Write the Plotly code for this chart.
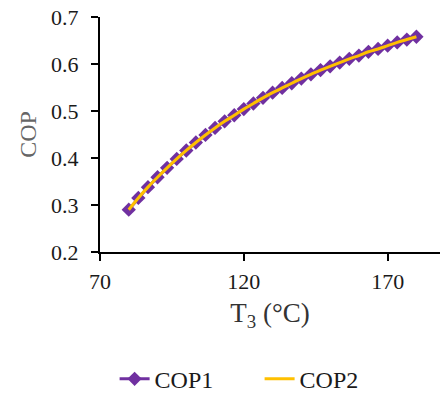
import plotly.graph_objects as go

# Generator temperature T3 (°C)
t3 = [80.0, 83.33, 86.67, 90.0, 93.33, 96.67, 100.0, 103.33, 106.67, 110.0,
      113.33, 116.67, 120.0, 123.33, 126.67, 130.0, 133.33, 136.67, 140.0, 143.33,
      146.67, 150.0, 153.33, 156.67, 160.0, 163.33, 166.67, 170.0, 173.33, 176.67,
      180.0]

# Coefficient of performance from the two methods
cop1 = [0.290, 0.315, 0.338, 0.359, 0.379, 0.398, 0.416, 0.433, 0.449, 0.464,
        0.478, 0.491, 0.504, 0.516, 0.528, 0.539, 0.549, 0.559, 0.569, 0.578,
        0.587, 0.595, 0.603, 0.611, 0.618, 0.626, 0.632, 0.639, 0.646, 0.652,
        0.658]
cop2 = [0.290, 0.315, 0.338, 0.359, 0.379, 0.398, 0.416, 0.433, 0.449, 0.464,
        0.478, 0.491, 0.504, 0.516, 0.528, 0.539, 0.549, 0.559, 0.569, 0.578,
        0.587, 0.595, 0.603, 0.611, 0.618, 0.626, 0.632, 0.639, 0.646, 0.652,
        0.658]

x_ticks = [70, 120, 170]
y_ticks = [0.2, 0.3, 0.4, 0.5, 0.6, 0.7]

serif = "Liberation Serif, Times New Roman, serif"

fig = go.Figure()
fig.add_trace(go.Scatter(
    x=t3, y=cop1, name="COP1", mode="lines+markers",
    line=dict(color="#7030A0", width=3),
    marker=dict(symbol="diamond", size=11, color="#7030A0"),
))
fig.add_trace(go.Scatter(
    x=t3, y=cop2, name="COP2", mode="lines",
    line=dict(color="#FFC000", width=3, shape="spline"),
))

fig.update_layout(
    width=440, height=393,
    margin=dict(l=100, r=0, t=17, b=141),
    plot_bgcolor="white", paper_bgcolor="white",
    font=dict(family=serif, color="#1a1a1a"),
    showlegend=True,
    legend=dict(
        orientation="h", x=0.59, xref="container", xanchor="center",
        y=0.035, yref="container", yanchor="middle",
        font=dict(family=serif, size=24, color="#1a1a1a"),
        entrywidth=100, entrywidthmode="pixels", tracegroupgap=0,
    ),
)

fig.update_xaxes(
    range=[70, 188.2], tickvals=x_ticks, ticktext=[str(v) for v in x_ticks],
    showgrid=False, zeroline=False,
    showline=True, linecolor="black", linewidth=2,
    ticks="outside", ticklen=7, tickwidth=2, tickcolor="black",
    tickfont=dict(family=serif, size=22, color="#1a1a1a"),
    ticklabelstandoff=2,
    title=dict(text="T<sub>3</sub> (°C)", standoff=10,
               font=dict(family=serif, size=27, color="#333333")),
    automargin=False,
)
fig.update_yaxes(
    range=[0.2, 0.7], tickvals=y_ticks, ticktext=[f"{v:.1f}" for v in y_ticks],
    showgrid=False, zeroline=False,
    showline=True, linecolor="black", linewidth=2,
    ticks="outside", ticklen=7, tickwidth=2, tickcolor="black",
    tickfont=dict(family=serif, size=22, color="#1a1a1a"),
    ticklabelstandoff=8,
    title=dict(text="COP", standoff=8,
               font=dict(family=serif, size=24, color="#666666")),
    automargin=False,
)

fig.write_html("out.html")
